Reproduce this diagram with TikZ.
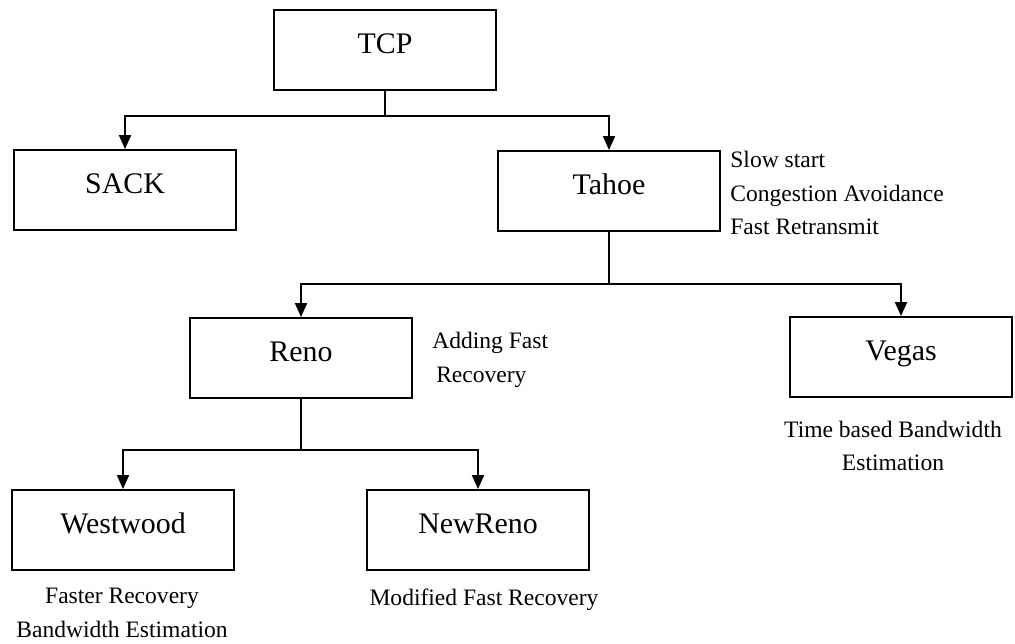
\documentclass[tikz,border=0pt]{standalone}
\usepackage{fontspec}
\setmainfont{Liberation Serif}
\usetikzlibrary{arrows.meta}

\begin{document}
\begin{tikzpicture}[x=0.2mm,y=-0.2mm]
    \tikzstyle{every node}+=[inner sep=0pt]
    \tikzstyle{proto}=[draw,line width=1.1pt,minimum width=4.45cm,minimum height=1.6cm,
                       font=\fontsize{17}{20}\selectfont,text height=0.5cm,text depth=0.38cm]
    \tikzstyle{note}=[font=\fontsize{13.4}{19}\selectfont]
    \tikzstyle{wire}=[line width=1.1pt]
    \tikzstyle{feed}=[wire,-{Triangle[width=2.4mm,length=2.8mm]}]
    \useasboundingbox (0,0) rectangle (1015,643);
    % boxes
    \node [proto] (tcp) at (385,50) {TCP};
    \node [proto] (sack) at (125,190) {SACK};
    \node [proto] (tahoe) at (609,191) {Tahoe};
    \node [proto] (reno) at (301,358) {Reno};
    \node [proto] (vegas) at (901,357) {Vegas};
    \node [proto] (westwood) at (123,530) {Westwood};
    \node [proto] (newreno) at (478,530) {NewReno};
    % notes
    \node [note,anchor=west,align=left] (tahoenote) at (730,193) {Slow start\\Congestion Avoidance\\Fast Retransmit};
    \node [note,anchor=west,align=left] (renonote) at (432,360) {Adding Fast\\\,Recovery};
    \node [note,align=center] (vegasnote) at (893,446) {Time based Bandwidth\\Estimation};
    \node [note,align=center] (westnote) at (122,613) {Faster Recovery\\Bandwidth Estimation};
    \node [note] (newrenonote) at (484,600) {Modified Fast Recovery};
    % junctions
    \coordinate (j1) at (385,116);
    \coordinate (j2) at (609,284);
    \coordinate (j3) at (301,450);
    \draw [wire] (tcp.south) -- (j1);
    \draw [feed] (j1) -| (sack.north);
    \draw [feed] (j1) -| (tahoe.north);
    \draw [wire] (tahoe.south) -- (j2);
    \draw [feed] (j2) -| (reno.north);
    \draw [feed] (j2) -| (vegas.north);
    \draw [wire] (reno.south) -- (j3);
    \draw [feed] (j3) -| (westwood.north);
    \draw [feed] (j3) -| (newreno.north);
\end{tikzpicture}
\end{document}
